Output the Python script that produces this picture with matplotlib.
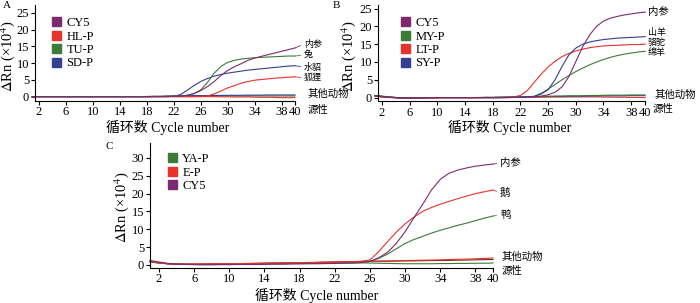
import matplotlib
matplotlib.use("Agg")
import matplotlib.pyplot as plt
from matplotlib.patches import Patch
import numpy as np

plt.rcParams['font.family'] = ['Liberation Serif', 'Noto Sans CJK SC']
plt.rcParams['mathtext.fontset'] = 'stix'

cycles = np.arange(1, 41)

# ---- panel A (x10^4) ----
cy5_A = [0, 0, 0, 0, 0, 0, 0, 0, 0, 0, 0, 0, 0, 0, 0, 0, 0, 0, 0.05, 0.05,
         0.1, 0.1, 0.2, 0.4, 0.9, 1.8, 3.0, 4.5, 6.3, 7.8, 8.9, 9.8, 10.8, 11.5, 12.0,
         12.5, 13.0, 13.5, 14.0, 14.5]
hl_A = [0, 0, 0, 0, 0, 0, 0, 0, 0, 0, 0, 0, 0, 0, 0, 0, 0, 0, 0, 0,
        0, 0, 0, 0, 0.02, 0.05, 0.2, 0.8, 1.7, 2.6, 3.3, 4.0, 4.5, 4.9, 5.1,
        5.3, 5.5, 5.6, 5.8, 5.9]
tu_A = [0, 0, 0, 0, 0, 0, 0, 0, 0, 0, 0, 0, 0, 0, 0, 0, 0, 0, 0, 0,
        0.05, 0.1, 0.2, 0.4, 0.9, 2.0, 4.2, 7.0, 9.0, 10.2, 10.8, 11.2, 11.4, 11.6, 11.7,
        11.8, 11.9, 12.0, 12.1, 12.1]
sd_A = [0, 0, 0, 0, 0, 0, 0, 0, 0, 0, 0, 0, 0, 0, 0, 0, 0, 0, 0, 0,
        0, 0.1, 0.6, 1.9, 3.3, 4.5, 5.4, 6.1, 6.6, 7.0, 7.3, 7.6, 7.9, 8.1, 8.3,
        8.5, 8.7, 8.9, 9.1, 9.2]
oth_A_blue = [0, 0, 0, 0, 0, 0, 0, 0, 0, 0, 0, 0, 0, 0, 0, 0, 0, 0.05, 0.1, 0.1,
              0.15, 0.2, 0.2, 0.25, 0.3, 0.3, 0.3, 0.35, 0.35, 0.4, 0.4, 0.4, 0.45, 0.45, 0.45,
              0.5, 0.5, 0.5, 0.5, 0.5]
oth_A_red = [0, 0, 0, 0, 0, 0, 0, 0, 0, 0, 0, 0, 0, 0, 0, 0, 0, 0, 0, 0,
             0, 0, 0, 0, 0, 0, 0, 0, -0.05, -0.05, -0.1, -0.1, -0.1, -0.15, -0.2,
             -0.2, -0.25, -0.3, -0.3, -0.3]
oth_A_green = [0, 0, 0, 0, 0, 0, 0, 0, 0, 0, 0, 0, 0, 0, 0, 0, 0, 0, 0.05, 0.05,
               0.1, 0.1, 0.15, 0.15, 0.2, 0.2, 0.2, 0.2, 0.2, 0.2, 0.2, 0.2, 0.2, 0.2, 0.2,
               0.2, 0.2, 0.2, 0.2, 0.2]

# ---- panel B ----
cy5_B = [0.5, 0.3, 0.1, 0, -0.1, -0.1, -0.1, -0.05, 0, 0, 0, 0, 0, 0, 0, 0, 0, 0, 0, 0,
         0.05, 0.1, 0.15, 0.2, 0.4, 0.8, 1.5, 3.0, 5.9, 10.1, 14.3, 17.6, 20.0, 21.5, 22.3,
         22.8, 23.2, 23.5, 23.8, 24.0]
my_B = [0.6, 0.4, 0.2, 0.05, -0.1, -0.15, -0.15, -0.1, -0.05, 0, 0, 0, 0, 0, 0, 0, 0, 0, 0, 0.05,
        0.1, 0.15, 0.2, 0.4, 1.2, 2.4, 3.7, 5.0, 6.2, 7.3, 8.3, 9.2, 10.0, 10.7, 11.3,
        11.8, 12.2, 12.5, 12.8, 13.0]
lt_B = [0.4, 0.2, 0.05, -0.05, -0.15, -0.2, -0.2, -0.15, -0.1, -0.05, 0, 0, 0, 0, 0, 0, 0, 0, 0.05, 0.1,
        0.2, 0.6, 2.0, 4.3, 6.6, 8.6, 10.2, 11.5, 12.4, 13.1, 13.6, 14.0, 14.3, 14.5, 14.6,
        14.7, 14.8, 14.9, 14.9, 15.0]
sy_B = [0.5, 0.3, 0.1, 0, -0.1, -0.1, -0.1, -0.05, 0, 0, 0, 0, 0, 0, 0, 0, 0, 0, 0, 0.05,
        0.1, 0.15, 0.2, 0.3, 1.0, 2.2, 5.0, 8.7, 12.0, 13.9, 15.0, 15.6, 16.0, 16.3, 16.5,
        16.7, 16.8, 16.9, 17.0, 17.1]
oth_B_green = [0.6, 0.4, 0.2, 0.05, -0.1, -0.1, -0.1, -0.05, 0, 0, 0, 0, 0, 0, 0, 0.05, 0.1, 0.1, 0.15, 0.2,
               0.2, 0.25, 0.3, 0.3, 0.35, 0.4, 0.4, 0.45, 0.5, 0.5, 0.55, 0.6, 0.6, 0.65, 0.7,
               0.7, 0.7, 0.75, 0.75, 0.75]
oth_B_blue = [0.5, 0.3, 0.1, 0, -0.1, -0.1, -0.1, -0.05, 0, 0, 0, 0, 0, 0, 0, 0, 0.05, 0.05, 0.1, 0.1,
              0.15, 0.2, 0.2, 0.25, 0.3, 0.3, 0.35, 0.35, 0.4, 0.4, 0.4, 0.45, 0.45, 0.5, 0.5,
              0.5, 0.5, 0.55, 0.55, 0.55]
oth_B_red = [0.4, 0.2, 0.05, -0.05, -0.15, -0.2, -0.2, -0.15, -0.1, -0.05, 0, 0, 0, 0, 0, 0, 0, 0, 0, 0,
             0.05, 0.05, 0.1, 0.1, 0.1, 0.15, 0.15, 0.15, 0.2, 0.2, 0.2, 0.2, 0.2, 0.15, 0.15,
             0.1, 0.1, 0.05, 0.05, 0.0]

# ---- panel C ----
ya_C = [0.8, 0.5, 0.3, 0.2, 0.15, 0.1, 0.1, 0.1, 0.1, 0.15, 0.15, 0.2, 0.2, 0.25, 0.3, 0.3, 0.35, 0.4, 0.4, 0.45,
        0.5, 0.5, 0.55, 0.6, 0.7, 0.9, 1.8, 3.0, 4.5, 6.0, 7.1, 8.0, 8.9, 9.7, 10.4,
        11.1, 11.7, 12.4, 13.1, 13.7]
e_C = [1.0, 0.6, 0.3, 0.2, 0.2, 0.2, 0.25, 0.25, 0.3, 0.3, 0.35, 0.35, 0.4, 0.4, 0.45, 0.5, 0.55, 0.6, 0.65, 0.7,
       0.75, 0.8, 0.85, 0.9, 1.0, 1.4, 3.7, 6.5, 9.2, 11.5, 13.4, 15.0, 16.1, 17.0, 17.8,
       18.6, 19.3, 20.0, 20.5, 21.0]
cy5_C = [1.2, 0.8, 0.4, 0.2, 0.1, 0.05, 0, 0, 0.05, 0.05, 0.1, 0.1, 0.1, 0.15, 0.2, 0.2, 0.25, 0.25, 0.3, 0.3,
         0.35, 0.4, 0.45, 0.5, 0.6, 1.0, 2.0, 3.5, 6.0, 9.3, 13.2, 17.0, 21.0, 24.0, 25.7,
         26.6, 27.2, 27.7, 28.0, 28.3]
oth_C_red1 = [0.9, 0.6, 0.3, 0.2, 0.2, 0.2, 0.2, 0.25, 0.3, 0.3, 0.35, 0.4, 0.4, 0.45, 0.5, 0.55, 0.55, 0.6, 0.65, 0.7,
              0.75, 0.8, 0.85, 0.9, 0.95, 1.0, 1.05, 1.1, 1.15, 1.2, 1.25, 1.3, 1.35, 1.4, 1.5,
              1.55, 1.6, 1.7, 1.8, 1.9]
oth_C_red2 = [1.0, 0.6, 0.3, 0.2, 0.2, 0.2, 0.2, 0.25, 0.3, 0.3, 0.35, 0.35, 0.4, 0.45, 0.5, 0.5, 0.55, 0.6, 0.6, 0.65,
              0.7, 0.75, 0.8, 0.85, 0.9, 0.95, 1.0, 1.0, 1.05, 1.1, 1.1, 1.15, 1.2, 1.2, 1.25,
              1.3, 1.35, 1.4, 1.45, 1.5]
oth_C_green = [0.8, 0.5, 0.3, 0.2, 0.15, 0.1, 0.1, 0.1, 0.1, 0.15, 0.15, 0.2, 0.2, 0.25, 0.3, 0.3, 0.35, 0.4, 0.4, 0.45,
               0.5, 0.5, 0.55, 0.55, 0.55, 0.5, 0.45, 0.4, 0.35, 0.3, 0.3, 0.3, 0.3, 0.35, 0.35,
               0.4, 0.4, 0.45, 0.45, 0.5]

PURPLE = '#7d2b70'
RED = '#e8332c'
GREEN = '#3c7a37'
BLUE = '#33408f'
DARK = '#6a2a2a'

W, H = 700, 303
fig = plt.figure(figsize=(7, 3.03), dpi=100)


def add_axes(x0, x1, y0, y1):
    return fig.add_axes([x0 / W, 1 - y1 / H, (x1 - x0) / W, (y1 - y0) / H])


def style(ax, xlim, ylim, yticks):
    ax.set_xlim(*xlim)
    ax.set_ylim(*ylim)
    ax.set_xticks([2, 6, 10, 14, 18, 22, 26, 30, 34, 38, 40])
    ax.set_yticks(yticks)
    for s in ['top', 'right']:
        ax.spines[s].set_visible(False)
    for s in ['left', 'bottom']:
        ax.spines[s].set_linewidth(0.8)
    ax.tick_params(direction='out', length=3, width=0.8, labelsize=9, pad=1.2)


def ftext(x, y, s, **kw):
    fig.text(x / W, 1 - y / H, s, **kw)


def legend(ax, handles, x, y):
    ax.legend(handles=handles, loc='upper left', bbox_to_anchor=(x / W, 1 - y / H),
              bbox_transform=fig.transFigure, frameon=False, handlelength=0.7,
              handleheight=0.7, handletextpad=0.45, labelspacing=0.12, borderpad=0,
              borderaxespad=0, fontsize=9)


def tag(ax, series, col, text, x, y, size):
    # curve-end label with a short leader line
    ax.annotate(text, xy=(40, series[-1]), xycoords='data',
                xytext=(x / W, 1 - y / H), textcoords='figure fraction',
                fontsize=size, va='center', ha='left', annotation_clip=False,
                arrowprops=dict(arrowstyle='-', color=col, lw=0.6,
                                shrinkA=0.5, shrinkB=0, relpos=(0, 0.5)))


lw = 0.8
big, small = 7.5, 6.5

# Panel A
axA = add_axes(35, 295, 5, 100.5)
for series, col in [(oth_A_green, GREEN), (oth_A_red, RED), (oth_A_blue, BLUE),
                    (hl_A, RED), (sd_A, BLUE), (tu_A, GREEN), (cy5_A, PURPLE)]:
    axA.plot(cycles, series, color=col, lw=lw, clip_on=False)
style(axA, (1.4, 40), (-1.15, 27.3), [0, 5, 10, 15, 20, 25])
legend(axA, [Patch(color=PURPLE, label='CY5'), Patch(color=RED, label='HL-P'),
             Patch(color=GREEN, label='TU-P'), Patch(color=BLUE, label='SD-P')], 52, 17)
tag(axA, cy5_A, PURPLE, '内参', 304, 44, small)
tag(axA, tu_A, GREEN, '兔', 304, 55, small)
tag(axA, sd_A, BLUE, '水貂', 304, 67, small)
tag(axA, hl_A, RED, '狐狸', 304, 78, small)

# Panel B
axB = add_axes(378, 645, 5, 101)
for series, col in [(oth_B_red, RED), (oth_B_blue, BLUE), (oth_B_green, GREEN),
                    (my_B, GREEN), (lt_B, RED), (sy_B, BLUE), (cy5_B, PURPLE)]:
    axB.plot(cycles, series, color=col, lw=lw, clip_on=False)
style(axB, (1.42, 40), (-0.95, 26.0), [0, 5, 10, 15, 20, 25])
legend(axB, [Patch(color=PURPLE, label='CY5'), Patch(color=GREEN, label='MY-P'),
             Patch(color=RED, label='LT-P'), Patch(color=BLUE, label='SY-P')], 401, 17)
tag(axB, cy5_B, PURPLE, '内参', 648, 12, big)
tag(axB, sy_B, BLUE, '山羊', 648, 33, small)
tag(axB, lt_B, RED, '骆驼', 648, 43, small)
tag(axB, my_B, GREEN, '绵羊', 648, 53, small)

# Panel C
axC = add_axes(150, 493, 143, 267.5)
for series, col in [(oth_C_green, GREEN), (oth_C_red2, DARK), (oth_C_red1, RED),
                    (ya_C, GREEN), (e_C, RED), (cy5_C, PURPLE)]:
    axC.plot(cycles, series, color=col, lw=lw, clip_on=False)
style(axC, (0.98, 40), (-0.75, 34.2), [0, 5, 10, 15, 20, 25, 30])
legend(axC, [Patch(color=GREEN, label='YA-P'), Patch(color=RED, label='E-P'),
             Patch(color=PURPLE, label='CY5')], 168, 153)
tag(axC, cy5_C, PURPLE, '内参', 500, 163, big)
tag(axC, e_C, RED, '鹅', 500, 193, big)
tag(axC, ya_C, GREEN, '鸭', 500, 215, big)

# panel letters
ftext(3, 5, 'A', fontsize=8, va='center')
ftext(333, 5, 'B', fontsize=8, va='center')
ftext(105, 146, 'C', fontsize=8, va='center')

# axis titles
ylab = r'$\Delta$Rn (×10$^4$)'
ftext(8, 56, ylab, fontsize=10.5, rotation=90, ha='center', va='center')
ftext(349, 56, ylab, fontsize=10.5, rotation=90, ha='center', va='center')
ftext(122, 207, ylab, fontsize=10.5, rotation=90, ha='center', va='center')
xlab = '循环数 Cycle number'
ftext(168, 127, xlab, fontsize=10, ha='center', va='center')
ftext(510, 127, xlab, fontsize=10, ha='center', va='center')
ftext(317, 295, xlab, fontsize=10, ha='center', va='center')

# "other animal" labels
cf = dict(fontsize=big, va='center', ha='left')
ftext(308, 94, '其他动物', **cf)
ftext(308, 110, '源性', **cf)
ftext(655, 95, '其他动物', **cf)
ftext(653, 109, '源性', **cf)
ftext(502, 257, '其他动物', **cf)
ftext(502, 271, '源性', **cf)

fig.savefig('out.png', dpi=100)
